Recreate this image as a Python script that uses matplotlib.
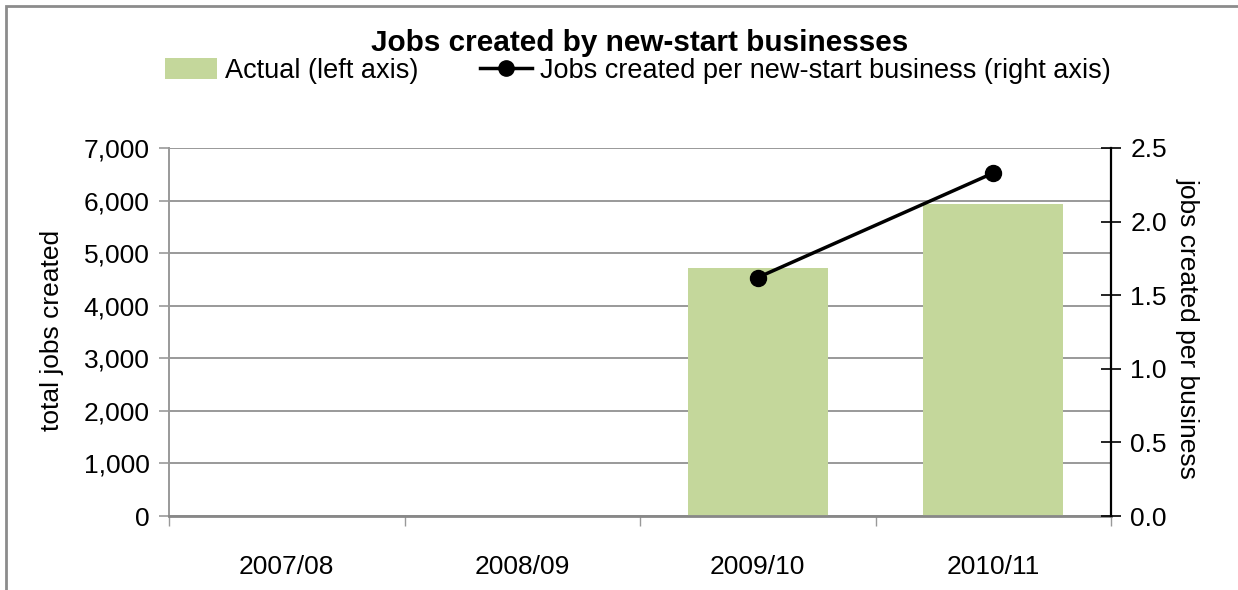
import matplotlib
matplotlib.use("Agg")
import matplotlib.pyplot as plt
import numpy as np
from matplotlib.patches import Rectangle
from matplotlib.lines import Line2D
from matplotlib.ticker import FuncFormatter

plt.rcParams["font.family"] = ["Liberation Sans", "DejaVu Sans"]

years = ["2007/08", "2008/09", "2009/10", "2010/11"]
jobs_actual = [np.nan, np.nan, 4710, 5940]
jobs_per_business = [np.nan, np.nan, 1.62, 2.33]

GREEN = "#c4d79b"
GRID = "#999999"
FS = 19

fig = plt.figure(figsize=(12.38, 5.9), dpi=100)
W, H = 1238, 590
ax = fig.add_axes([169 / W, 1 - 516 / H, (1111 - 169) / W, (516 - 148) / H])

x = np.arange(len(years))
ax.bar(x, np.nan_to_num(jobs_actual), width=0.595, color=GREEN, zorder=2)
ax.set_xlim(-0.5, len(years) - 0.5)
ax.set_ylim(0, 7000)
ax.set_yticks(np.arange(0, 7001, 1000))
ax.yaxis.set_major_formatter(FuncFormatter(lambda v, p: f"{v:,.0f}"))
ax.grid(axis="y", color=GRID, linewidth=1.4, zorder=0)
ax.set_axisbelow(True)

ax.set_xticks(x)
ax.set_xticklabels(years, fontsize=FS)
ax.set_xticks(np.arange(-0.5, len(years)), minor=True)
ax.tick_params(axis="x", which="major", length=0, pad=28)
ax.tick_params(axis="x", which="minor", length=7, color=GRID, width=1)
ax.tick_params(axis="y", length=7, color=GRID, width=1.2, labelsize=FS, pad=7)

for side in ["top", "right"]:
    ax.spines[side].set_visible(False)
ax.spines["left"].set_color(GRID)
ax.spines["left"].set_linewidth(1.4)
ax.spines["bottom"].set_color("#888888")
ax.spines["bottom"].set_linewidth(2)

ax2 = ax.twinx()
ax2.plot(x, jobs_per_business, color="black", linewidth=2.5,
         marker="o", markersize=11.5, zorder=3)
ax2.set_ylim(0, 2.5)
ax2.set_yticks(np.arange(0, 2.51, 0.5))
ax2.yaxis.set_major_formatter(FuncFormatter(lambda v, p: f"{v:.1f}"))
ax2.tick_params(axis="y", direction="inout", length=14, width=1.2,
                color="black", labelsize=FS, pad=7)
for side in ["top", "left", "bottom"]:
    ax2.spines[side].set_visible(False)
ax2.spines["right"].set_linewidth(1.6)

# axis titles and chart title placed in figure pixels
fig.text(52 / W, 1 - 330 / H, "total jobs created", fontsize=FS,
         rotation=90, ha="center", va="center")
fig.text(1188 / W, 1 - 328 / H, "jobs created per business", fontsize=FS,
         rotation=-90, ha="center", va="center")
fig.text(640 / W, 1 - 43 / H, "Jobs created by new-start businesses",
         fontsize=21.4, fontweight="bold", ha="center", va="center")

handles = [
    Rectangle((0, 0), 1, 1, facecolor=GREEN, edgecolor="none"),
    Line2D([0], [0], color="black", linewidth=2.5, marker="o", markersize=11),
]
labels = ["Actual (left axis)", "Jobs created per new-start business (right axis)"]
fig.legend(handles, labels, loc="center", bbox_to_anchor=(638 / W, 1 - 71 / H),
           ncol=2, frameon=False, fontsize=19.5, handlelength=1.9,
           handleheight=0.8, handletextpad=0.3, columnspacing=2.3,
           borderpad=0)

# outer frame of the chart (right and bottom edges fall outside)
fig.patches.append(Rectangle((6 / W, -0.1), 1.1, 1 - 6 / H + 0.1,
                             transform=fig.transFigure, fill=False,
                             edgecolor="#8c8c8c", linewidth=2))

fig.savefig("out.png", dpi=100)
